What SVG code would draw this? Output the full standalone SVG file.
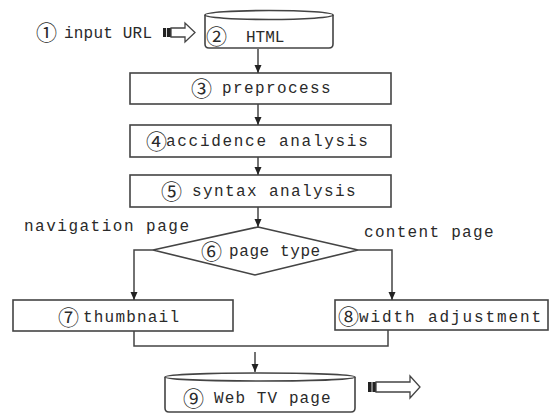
<svg xmlns="http://www.w3.org/2000/svg" width="550" height="414" viewBox="0 0 550 414">
  <defs>
    <marker id="ah" viewBox="0 0 8 8" refX="8" refY="4" markerWidth="8" markerHeight="8" markerUnits="userSpaceOnUse" orient="auto">
      <path d="M0,0.5 L8,4 L0,7.5 Z" fill="#222"/>
    </marker>
  </defs>
  <style>
    .box { fill: #fff; stroke: #444; stroke-width: 1.6; }
    .ln { fill: none; stroke: #444; stroke-width: 1.5; }
    .arr { fill: none; stroke: #444; stroke-width: 1.5; marker-end: url(#ah); }
    .t { font-family: "Liberation Mono", "Noto Sans CJK SC", monospace; font-size: 16px; fill: #2a2a2a; letter-spacing: 1.4px; }
    .c { font-family: "Noto Sans CJK SC", "DejaVu Sans", sans-serif; font-size: 21px; fill: #2a2a2a; }
    .blk { fill: #fff; stroke: #444; stroke-width: 1.3; }
  </style>

  <rect width="550" height="414" fill="#fff"/>

  <!-- input -->
  <g id="n1">
    <text class="c" x="36" y="40">①</text>
    <text class="t" x="64" y="38" style="letter-spacing:0.2px">input URL</text>
    <rect x="163" y="28" width="8" height="9" fill="#222"/>
    <line x1="166.5" y1="28" x2="166.5" y2="37" stroke="#ddd" stroke-width="1"/>
    <path class="blk" d="M171,28 L185,28 L185,23 L195,32.5 L185,42 L185,37 L171,37 Z"/>
  </g>

  <!-- HTML store -->
  <g id="n2">
    <path class="box" d="M205,15 L205,44 Q205,48 209,48 L329,48 Q333,48 333,44 L333,15"/>
    <ellipse class="box" cx="269" cy="15" rx="64" ry="4.5"/>
    <text class="c" x="206" y="44">②</text>
    <text class="t" x="246" y="42" style="letter-spacing:0px">HTML</text>
  </g>

  <g id="n3">
    <rect class="box" x="130" y="73" width="261" height="31"/>
    <text class="c" x="191" y="96">③</text>
    <text class="t" x="222" y="93">preprocess</text>
  </g>

  <g id="n4">
    <rect class="box" x="130" y="125" width="261" height="32"/>
    <text class="c" x="146" y="149">④</text>
    <text class="t" x="166" y="146" style="letter-spacing:1.7px">accidence analysis</text>
  </g>

  <g id="n5">
    <rect class="box" x="130" y="175" width="261" height="32"/>
    <text class="c" x="161" y="199">⑤</text>
    <text class="t" x="192" y="196">syntax analysis</text>
  </g>

  <g id="n6">
    <path class="box" d="M258,227 L358,250 L255,275 L153,250 Z"/>
    <text class="c" x="201" y="259">⑥</text>
    <text class="t" x="229" y="256" style="letter-spacing:0.6px">page type</text>
  </g>

  <g id="n7">
    <rect class="box" x="13" y="300" width="220" height="31"/>
    <text class="c" x="58" y="325">⑦</text>
    <text class="t" x="83" y="322" style="letter-spacing:1.2px">thumbnail</text>
  </g>

  <g id="n8">
    <rect class="box" x="335" y="300" width="213" height="30"/>
    <text class="c" x="338" y="324">⑧</text>
    <text class="t" x="359" y="322" style="letter-spacing:1.9px">width adjustment</text>
  </g>

  <!-- output store -->
  <g id="n9">
    <path class="box" d="M165,377 L165,408 Q165,412 169,412 L351,412 Q355,412 355,408 L355,377"/>
    <ellipse class="box" cx="260" cy="377" rx="95" ry="4"/>
    <text class="c" x="183" y="406">⑨</text>
    <text class="t" x="214" y="403" style="letter-spacing:1.1px">Web TV page</text>
    <rect x="368" y="382" width="8" height="10" fill="#222"/>
    <line x1="372" y1="382" x2="372" y2="392" stroke="#ddd" stroke-width="1"/>
    <path class="blk" d="M376,382 L410,382 L410,376 L420,387 L410,398 L410,392 L376,392 Z"/>
  </g>

  <!-- branch labels -->
  <text class="t" x="24" y="231" style="letter-spacing:1.5px">navigation page</text>
  <text class="t" x="364" y="237" style="letter-spacing:1.3px">content page</text>

  <g id="connectors">
    <line class="arr" x1="258" y1="49" x2="258" y2="73"/>
    <line class="arr" x1="258" y1="104" x2="258" y2="125"/>
    <line class="arr" x1="258" y1="157" x2="258" y2="175"/>
    <line class="arr" x1="258" y1="207" x2="258" y2="227"/>
    <polyline class="arr" points="153,250 134,250 134,300"/>
    <polyline class="arr" points="358,250 392,250 392,300"/>
    <polyline class="ln" points="134,331 134,346 388,346 388,330"/>
    <line class="arr" x1="255" y1="352" x2="255" y2="372"/>
  </g>
</svg>
